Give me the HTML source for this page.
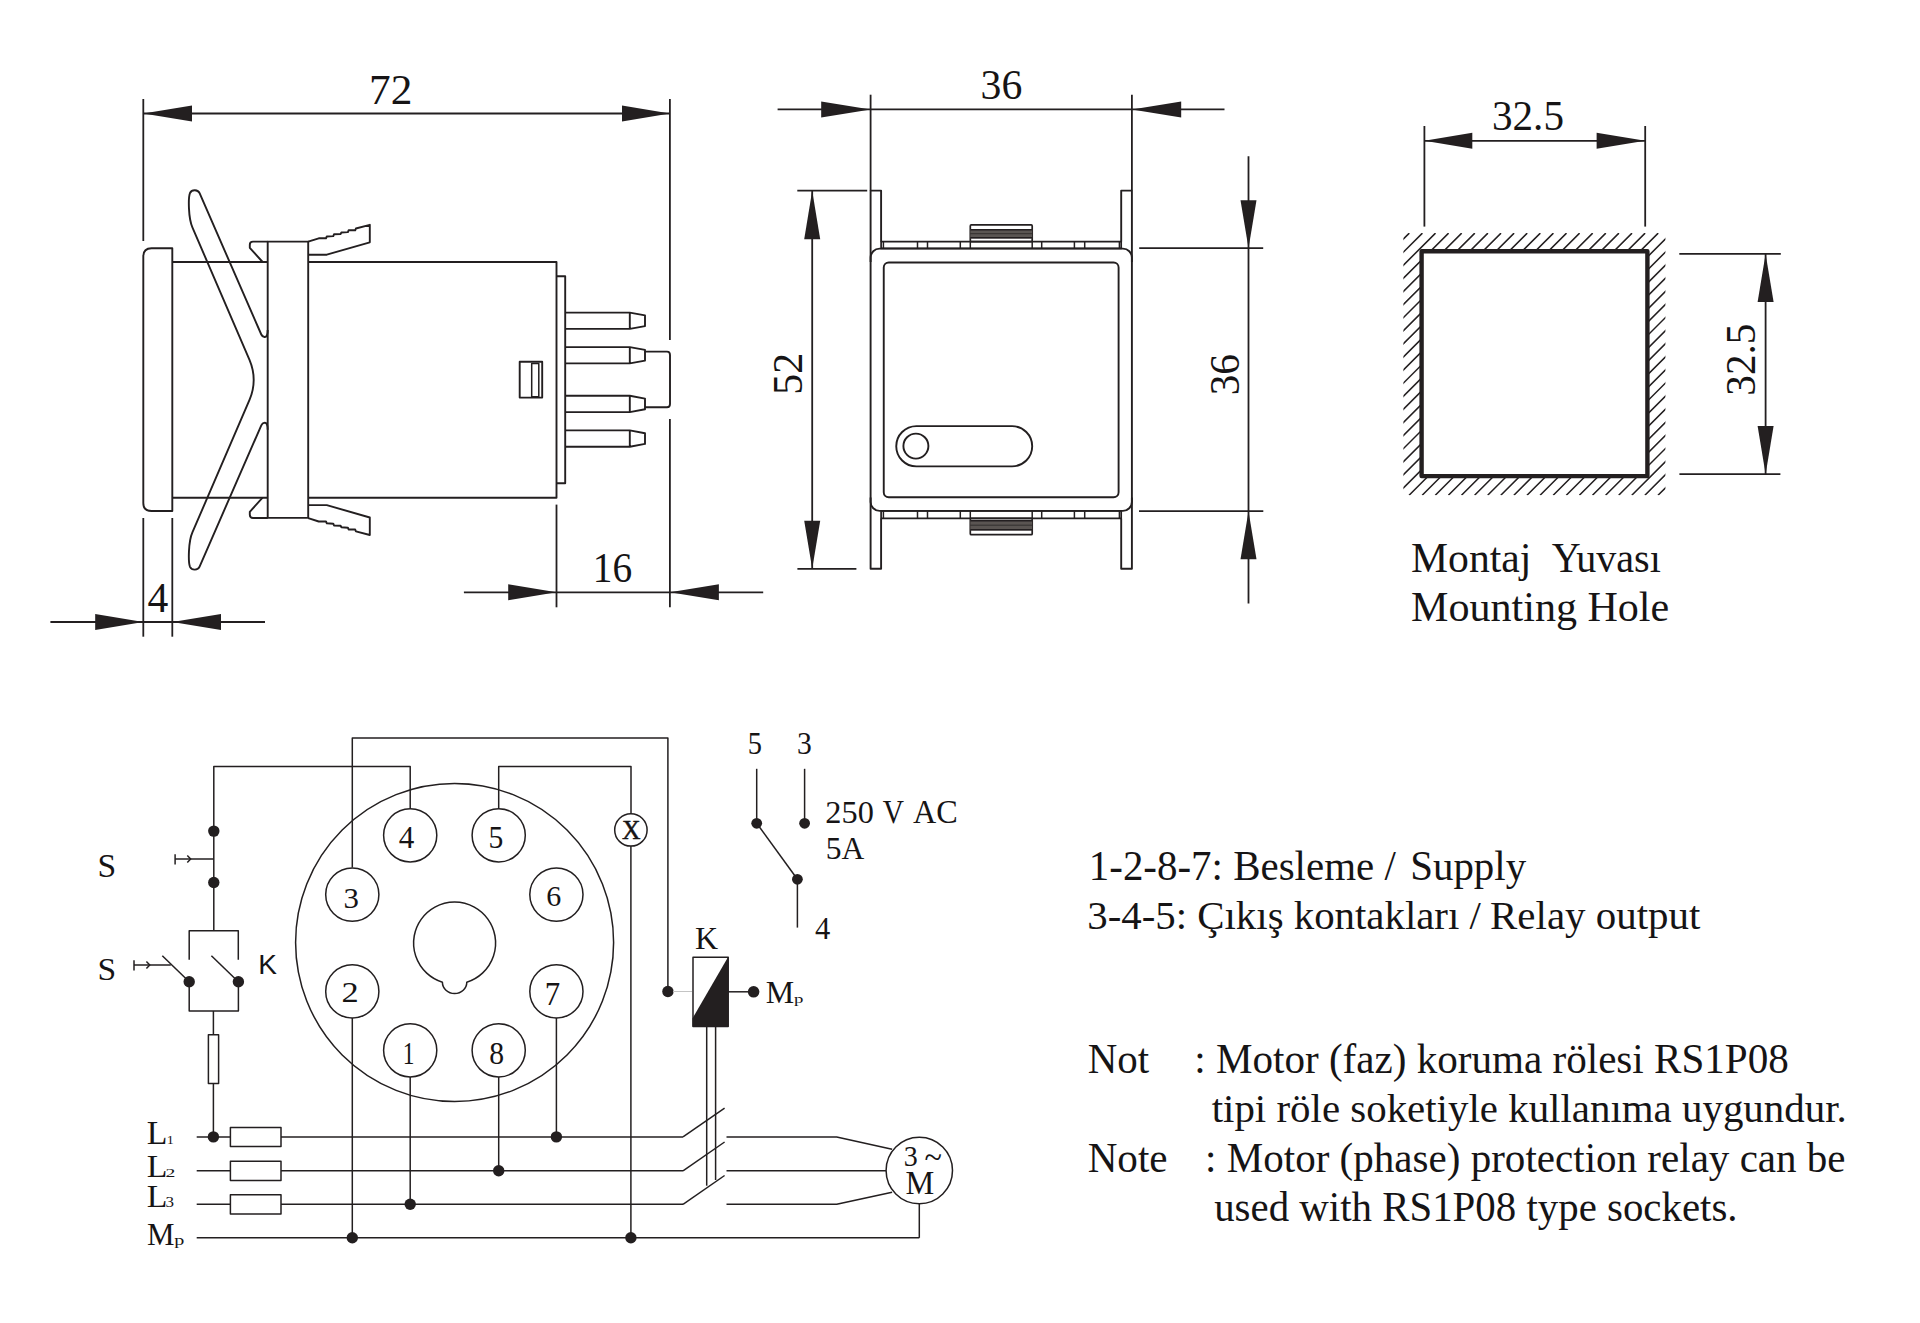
<!DOCTYPE html>
<html><head><meta charset="utf-8"><title>Relay drawing</title>
<style>
html,body{margin:0;padding:0;background:#fff;}
body{width:1920px;height:1323px;overflow:hidden;}
svg{display:block;}
text{fill:#161415;stroke:none;white-space:pre;}
</style></head>
<body>
<svg width="1920" height="1323" viewBox="0 0 1920 1323">
<rect width="1920" height="1323" fill="#fff"/>
<g stroke="#231f20" fill="none" stroke-linecap="butt" stroke-linejoin="round">
<line x1="143.3" y1="99" x2="143.3" y2="241" stroke-width="1.8"/>
<line x1="669.9" y1="99" x2="669.9" y2="340" stroke-width="1.8"/>
<line x1="669.9" y1="419" x2="669.9" y2="607.3" stroke-width="1.8"/>
<line x1="143.3" y1="113.5" x2="669.9" y2="113.5" stroke-width="1.8"/>
<polygon points="143.3,113.5 192,105.5 192,121.5" fill="#231f20" stroke="none"/>
<polygon points="669.9,113.5 622,121.5 622,105.5" fill="#231f20" stroke="none"/>
<text x="368.99" y="103.9" font-size="42.72" font-family="'Liberation Serif', serif" textLength="43.34" lengthAdjust="spacingAndGlyphs" >72</text>
<path d="M172.3,511 L151.5,511 Q143.3,511 143.3,503 L143.3,256.5 Q143.3,248.3 151.5,248.3 L172.3,248.3 Z" stroke-width="1.9" fill="none" />
<path d="M172.3,262 L267.7,262 M308.2,262 L556.5,262 L556.5,497.7 L308.2,497.7 M267.7,497.7 L172.3,497.7" stroke-width="1.9" fill="none" />
<rect x="267.7" y="241.6" width="40.5" height="276.3" fill="none" stroke-width="1.9"/>
<path d="M267.7,241.6 L253,241.6 Q249.8,241.6 249.8,244.8 L249.8,247.8 L262.6,262" stroke-width="1.9" fill="none" />
<path d="M267.7,518 L253,518 Q249.8,518 249.8,514.8 L249.8,511.8 L262.6,497.7" stroke-width="1.9" fill="none" />
<path d="M308.2,241.6 L318.75,238.3 L326,238.3 L326.8,236.5 L333.3,236.1 L334,234.3 L340.6,234 L341.4,232.5 L347.9,232.1 L348.6,230.3 L355.2,230.3 L355.9,228.5 L369.8,224.8 L369.8,242.3 L326.8,254.7 L308.2,254.7" stroke-width="1.9" fill="none" />
<path d="M308.2,518.2 L318.75,521.5 L326,521.5 L326.8,523.3 L333.3,523.7 L334,525.5 L340.6,525.8 L341.4,527.3 L347.9,527.7 L348.6,529.5 L355.2,529.5 L355.9,531.3 L369.8,535 L369.8,517.5 L326.8,505.1 L308.2,505.1" stroke-width="1.9" fill="none" />
<path d="M267.7,330 Q267.7,337.5 264.5,337 Q262.3,336.8 261.3,334.5 L199.6,193.2 C198,189.5 192,189 190,193 C188.2,197.5 188.2,218 192.5,227.6 L249.5,359.9 Q257.9,379.9 249.5,399.9 L192.5,532.2 C188.2,541.8 188.2,562.3 190,566.8 C192,570.8 198,570.3 199.6,566.6 L261.3,425.3 Q262.3,423 264.5,422.8 Q267.7,422.3 267.7,429.8" stroke-width="1.9" fill="none" />
<rect x="519.7" y="361.8" width="22.5" height="35.8" fill="none" stroke-width="1.9"/>
<rect x="531.7" y="363.4" width="7.1" height="33.3" fill="none" stroke-width="1.5"/>
<path d="M556.5,276.2 L565.2,276.2 L565.2,483.3 L556.5,483.3" stroke-width="1.9" fill="none" />
<path d="M565.2,312.6 L629.8,312.6 L645,315.4 L645,326.1 L629.8,328.9 L565.2,328.9 M629.8,312.6 L629.8,328.9" stroke-width="1.9" fill="none" />
<path d="M565.2,347.1 L629.8,347.1 L645,349.9 L645,360.6 L629.8,363.4 L565.2,363.4 M629.8,347.1 L629.8,363.4" stroke-width="1.9" fill="none" />
<path d="M565.2,395.8 L629.8,395.8 L645,398.6 L645,409.3 L629.8,412.1 L565.2,412.1 M629.8,395.8 L629.8,412.1" stroke-width="1.9" fill="none" />
<path d="M565.2,430.4 L629.8,430.4 L645,433.2 L645,443.9 L629.8,446.7 L565.2,446.7 M629.8,430.4 L629.8,446.7" stroke-width="1.9" fill="none" />
<path d="M645,351.6 L667,351.6 Q670,351.6 670,355 L670,404 Q670,407.3 667,407.3 L645,407.3" stroke-width="1.9" fill="none" />
<line x1="143.3" y1="518" x2="143.3" y2="636.7" stroke-width="1.8"/>
<line x1="172.3" y1="518" x2="172.3" y2="636.7" stroke-width="1.8"/>
<line x1="50.4" y1="622" x2="265" y2="622" stroke-width="1.8"/>
<polygon points="143.3,622 95.2,630 95.2,614" fill="#231f20" stroke="none"/>
<polygon points="172.3,622 221,614 221,630" fill="#231f20" stroke="none"/>
<text x="147.55" y="611.9" font-size="42.27" font-family="'Liberation Serif', serif" textLength="20.8" lengthAdjust="spacingAndGlyphs" >4</text>
<line x1="556.5" y1="504.6" x2="556.5" y2="607.3" stroke-width="1.8"/>
<line x1="463.9" y1="592.3" x2="763.2" y2="592.3" stroke-width="1.8"/>
<polygon points="556.5,592.3 508.2,600.3 508.2,584.3" fill="#231f20" stroke="none"/>
<polygon points="669.9,592.3 718.9,584.3 718.9,600.3" fill="#231f20" stroke="none"/>
<text x="592.82" y="582.24" font-size="42.33" font-family="'Liberation Serif', serif" textLength="39.39" lengthAdjust="spacingAndGlyphs" >16</text>
<line x1="870.6" y1="94.7" x2="870.6" y2="190.6" stroke-width="1.8"/>
<line x1="1131.9" y1="94.7" x2="1131.9" y2="190.6" stroke-width="1.8"/>
<line x1="777.6" y1="109.4" x2="1224.5" y2="109.4" stroke-width="1.8"/>
<polygon points="870.6,109.4 821.2,117.4 821.2,101.4" fill="#231f20" stroke="none"/>
<polygon points="1131.9,109.4 1181.2,101.4 1181.2,117.4" fill="#231f20" stroke="none"/>
<text x="980.54" y="99.24" font-size="42.47" font-family="'Liberation Serif', serif" textLength="41.71" lengthAdjust="spacingAndGlyphs" >36</text>
<line x1="797.3" y1="190.7" x2="867.2" y2="190.7" stroke-width="1.8"/>
<line x1="797.4" y1="568.8" x2="856.4" y2="568.8" stroke-width="1.8"/>
<line x1="812.2" y1="190.7" x2="812.2" y2="568.8" stroke-width="1.8"/>
<polygon points="812.2,190.7 820.2,239.2 804.2,239.2" fill="#231f20" stroke="none"/>
<polygon points="812.2,568.8 804.2,520.7 820.2,520.7" fill="#231f20" stroke="none"/>
<text x="0" y="0" transform="translate(801.95,394.77) rotate(-90)" font-size="41.75" font-family="'Liberation Serif', serif" textLength="41.93" lengthAdjust="spacingAndGlyphs">52</text>
<line x1="1139.2" y1="248.2" x2="1263.2" y2="248.2" stroke-width="1.8"/>
<line x1="1139" y1="511.2" x2="1263.3" y2="511.2" stroke-width="1.8"/>
<line x1="1248.5" y1="156.2" x2="1248.5" y2="603.4" stroke-width="1.8"/>
<polygon points="1248.5,248.2 1240.5,200.3 1256.5,200.3" fill="#231f20" stroke="none"/>
<polygon points="1248.5,511.2 1256.5,559.2 1240.5,559.2" fill="#231f20" stroke="none"/>
<text x="0" y="0" transform="translate(1239.03,395.34) rotate(-90)" font-size="42.91" font-family="'Liberation Serif', serif" textLength="41.39" lengthAdjust="spacingAndGlyphs">36</text>
<rect x="870.6" y="248.6" width="261.3" height="262.3" rx="9" fill="none" stroke-width="1.9"/>
<path d="M870.6,262 L870.6,190.6 L881.1,190.6 L881.1,241.7" stroke-width="1.9" fill="none" />
<path d="M1121.2,241.7 L1121.2,190.6 L1131.9,190.6 L1131.9,262" stroke-width="1.9" fill="none" />
<path d="M870.6,497.5 L870.6,568.75 L881.1,568.75 L881.1,518.4" stroke-width="1.9" fill="none" />
<path d="M1121.2,518.4 L1121.2,568.75 L1131.9,568.75 L1131.9,497.5" stroke-width="1.9" fill="none" />
<rect x="881.1" y="241.6" width="240.1" height="6.8" fill="none" stroke-width="1.7"/>
<line x1="883.4" y1="241.6" x2="883.4" y2="248.4" stroke-width="1.5"/>
<line x1="917.5" y1="241.6" x2="917.5" y2="248.4" stroke-width="1.5"/>
<line x1="927.5" y1="241.6" x2="927.5" y2="248.4" stroke-width="1.5"/>
<line x1="960.3" y1="241.6" x2="960.3" y2="248.4" stroke-width="1.5"/>
<line x1="970.3" y1="241.6" x2="970.3" y2="248.4" stroke-width="1.5"/>
<line x1="1032.2" y1="241.6" x2="1032.2" y2="248.4" stroke-width="1.5"/>
<line x1="1041.7" y1="241.6" x2="1041.7" y2="248.4" stroke-width="1.5"/>
<line x1="1074.4" y1="241.6" x2="1074.4" y2="248.4" stroke-width="1.5"/>
<line x1="1084.7" y1="241.6" x2="1084.7" y2="248.4" stroke-width="1.5"/>
<line x1="1119.4" y1="241.6" x2="1119.4" y2="248.4" stroke-width="1.5"/>
<rect x="881.1" y="510.9" width="240.1" height="7.5" fill="none" stroke-width="1.7"/>
<line x1="883.4" y1="510.9" x2="883.4" y2="518.4" stroke-width="1.5"/>
<line x1="917.5" y1="510.9" x2="917.5" y2="518.4" stroke-width="1.5"/>
<line x1="927.5" y1="510.9" x2="927.5" y2="518.4" stroke-width="1.5"/>
<line x1="960.3" y1="510.9" x2="960.3" y2="518.4" stroke-width="1.5"/>
<line x1="970.3" y1="510.9" x2="970.3" y2="518.4" stroke-width="1.5"/>
<line x1="1032.2" y1="510.9" x2="1032.2" y2="518.4" stroke-width="1.5"/>
<line x1="1041.7" y1="510.9" x2="1041.7" y2="518.4" stroke-width="1.5"/>
<line x1="1074.4" y1="510.9" x2="1074.4" y2="518.4" stroke-width="1.5"/>
<line x1="1084.7" y1="510.9" x2="1084.7" y2="518.4" stroke-width="1.5"/>
<line x1="1119.4" y1="510.9" x2="1119.4" y2="518.4" stroke-width="1.5"/>
<rect x="970.3" y="224.9" width="61.9" height="16.7" rx="1" fill="none" stroke-width="1.7"/>
<rect x="970.3" y="229" width="61.9" height="9.5" fill="#5a5552" stroke="none"/>
<line x1="970.3" y1="229.7" x2="1032.2" y2="229.7" stroke-width="1.4"/>
<line x1="970.3" y1="237.8" x2="1032.2" y2="237.8" stroke-width="1.4"/>
<line x1="970.3" y1="233.7" x2="1032.2" y2="233.7" stroke-width="0.7"/>
<rect x="970.3" y="518.4" width="61.9" height="16.3" rx="1" fill="none" stroke-width="1.7"/>
<rect x="970.3" y="520" width="61.9" height="10.5" fill="#5a5552" stroke="none"/>
<line x1="970.3" y1="520.7" x2="1032.2" y2="520.7" stroke-width="1.4"/>
<line x1="970.3" y1="529.8" x2="1032.2" y2="529.8" stroke-width="1.4"/>
<line x1="970.3" y1="525.2" x2="1032.2" y2="525.2" stroke-width="0.7"/>
<rect x="883.75" y="262.5" width="234.85" height="234.7" rx="5" fill="none" stroke-width="1.9"/>
<rect x="896.25" y="426.1" width="135.95" height="40.3" rx="20.15" fill="none" stroke-width="1.9"/>
<circle cx="915.9" cy="446.1" r="12.5" stroke-width="1.9" fill="none"/>
<line x1="1424.4" y1="126" x2="1424.4" y2="226.6" stroke-width="1.8"/>
<line x1="1645.2" y1="126" x2="1645.2" y2="226.6" stroke-width="1.8"/>
<line x1="1424.4" y1="140.8" x2="1645.2" y2="140.8" stroke-width="1.8"/>
<polygon points="1424.4,140.8 1472.3,132.8 1472.3,148.8" fill="#231f20" stroke="none"/>
<polygon points="1645.2,140.8 1596.6,148.8 1596.6,132.8" fill="#231f20" stroke="none"/>
<text x="1491.97" y="129.94" font-size="42.47" font-family="'Liberation Serif', serif" textLength="72.01" lengthAdjust="spacingAndGlyphs" >32.5</text>
<line x1="1679.3" y1="253.9" x2="1780.8" y2="253.9" stroke-width="1.8"/>
<line x1="1679.4" y1="474.2" x2="1780.4" y2="474.2" stroke-width="1.8"/>
<line x1="1765.6" y1="253.9" x2="1765.6" y2="474.2" stroke-width="1.8"/>
<polygon points="1765.6,253.9 1773.6,302 1757.6,302" fill="#231f20" stroke="none"/>
<polygon points="1765.6,474.2 1757.6,425.9 1773.6,425.9" fill="#231f20" stroke="none"/>
<text x="0" y="0" transform="translate(1755.44,395.63) rotate(-90)" font-size="42.04" font-family="'Liberation Serif', serif" textLength="71.91" lengthAdjust="spacingAndGlyphs">32.5</text>
<clipPath id="hc"><path clip-rule="evenodd" d="M1403.4,233.1 H1665.4 V495.3 H1403.4 Z M1421.6,251.25 H1647.4 V476.1 H1421.6 Z"/></clipPath>
<path d="M1160.4,233.1 L898.2,495.3 M1173.5,233.1 L911.3,495.3 M1186.6,233.1 L924.4,495.3 M1199.7,233.1 L937.5,495.3 M1212.8,233.1 L950.6,495.3 M1225.9,233.1 L963.7,495.3 M1239,233.1 L976.8,495.3 M1252.1,233.1 L989.9,495.3 M1265.2,233.1 L1003,495.3 M1278.3,233.1 L1016.1,495.3 M1291.4,233.1 L1029.2,495.3 M1304.5,233.1 L1042.3,495.3 M1317.6,233.1 L1055.4,495.3 M1330.7,233.1 L1068.5,495.3 M1343.8,233.1 L1081.6,495.3 M1356.9,233.1 L1094.7,495.3 M1370,233.1 L1107.8,495.3 M1383.1,233.1 L1120.9,495.3 M1396.2,233.1 L1134,495.3 M1409.3,233.1 L1147.1,495.3 M1422.4,233.1 L1160.2,495.3 M1435.5,233.1 L1173.3,495.3 M1448.6,233.1 L1186.4,495.3 M1461.7,233.1 L1199.5,495.3 M1474.8,233.1 L1212.6,495.3 M1487.9,233.1 L1225.7,495.3 M1501,233.1 L1238.8,495.3 M1514.1,233.1 L1251.9,495.3 M1527.2,233.1 L1265,495.3 M1540.3,233.1 L1278.1,495.3 M1553.4,233.1 L1291.2,495.3 M1566.5,233.1 L1304.3,495.3 M1579.6,233.1 L1317.4,495.3 M1592.7,233.1 L1330.5,495.3 M1605.8,233.1 L1343.6,495.3 M1618.9,233.1 L1356.7,495.3 M1632,233.1 L1369.8,495.3 M1645.1,233.1 L1382.9,495.3 M1658.2,233.1 L1396,495.3 M1671.3,233.1 L1409.1,495.3 M1684.4,233.1 L1422.2,495.3 M1697.5,233.1 L1435.3,495.3 M1710.6,233.1 L1448.4,495.3 M1723.7,233.1 L1461.5,495.3 M1736.8,233.1 L1474.6,495.3 M1749.9,233.1 L1487.7,495.3 M1763,233.1 L1500.8,495.3 M1776.1,233.1 L1513.9,495.3 M1789.2,233.1 L1527,495.3 M1802.3,233.1 L1540.1,495.3 M1815.4,233.1 L1553.2,495.3 M1828.5,233.1 L1566.3,495.3 M1841.6,233.1 L1579.4,495.3 M1854.7,233.1 L1592.5,495.3 M1867.8,233.1 L1605.6,495.3 M1880.9,233.1 L1618.7,495.3 M1894,233.1 L1631.8,495.3 M1907.1,233.1 L1644.9,495.3 M1920.2,233.1 L1658,495.3 M1933.3,233.1 L1671.1,495.3" stroke-width="1.55" fill="none" clip-path="url(#hc)"/>
<rect x="1421.6" y="251.25" width="225.8" height="224.85" fill="none" stroke-width="4.4"/>
<text x="1411.05" y="572.3" font-size="42.97" font-family="'Liberation Serif', serif" textLength="120.36" lengthAdjust="spacingAndGlyphs" >Montaj</text>
<text x="1551.7" y="572.3" font-size="42.97" font-family="'Liberation Serif', serif" textLength="109.09" lengthAdjust="spacingAndGlyphs" >Yuvası</text>
<text x="1411.04" y="621.1" font-size="42.82" font-family="'Liberation Serif', serif" textLength="258.18" lengthAdjust="spacingAndGlyphs" >Mounting Hole</text>
<path d="M352.3,867.5 L352.3,738 L667.9,738 L667.9,990.9" stroke-width="1.5" fill="none" />
<path d="M213.8,930.7 L213.8,766.6 L410.2,766.6 L410.2,808.4" stroke-width="1.5" fill="none" />
<path d="M498.7,808.4 L498.7,766.6 L631,766.6 L631,813.5" stroke-width="1.5" fill="none" />
<circle cx="454.6" cy="942.5" r="159" stroke-width="1.5" fill="none"/>
<path d="M442.4,982.2 A41,41 0 1 1 466.8,982.2 A12.2,11.3 0 0 1 442.4,982.2 Z" stroke-width="1.5" fill="none" />
<circle cx="352.3" cy="894.6" r="26.6" stroke-width="1.5" fill="none"/>
<circle cx="410.2" cy="835.3" r="26.6" stroke-width="1.5" fill="none"/>
<circle cx="498.7" cy="835.3" r="26.6" stroke-width="1.5" fill="none"/>
<circle cx="556.4" cy="894.6" r="26.6" stroke-width="1.5" fill="none"/>
<circle cx="352.3" cy="991.4" r="26.6" stroke-width="1.5" fill="none"/>
<circle cx="556.4" cy="991.4" r="26.6" stroke-width="1.5" fill="none"/>
<circle cx="410.2" cy="1050.3" r="26.6" stroke-width="1.5" fill="none"/>
<circle cx="498.7" cy="1050.3" r="26.6" stroke-width="1.5" fill="none"/>
<text x="402.67" y="1064.2" font-size="31.11" font-family="'Liberation Serif', serif" textLength="11.73" lengthAdjust="spacingAndGlyphs" >1</text>
<text x="341.53" y="1002.3" font-size="30.07" font-family="'Liberation Serif', serif" textLength="17.19" lengthAdjust="spacingAndGlyphs" >2</text>
<text x="343.46" y="907.83" font-size="30.25" font-family="'Liberation Serif', serif" textLength="15.41" lengthAdjust="spacingAndGlyphs" >3</text>
<text x="398.81" y="848.4" font-size="31.4" font-family="'Liberation Serif', serif" textLength="15.57" lengthAdjust="spacingAndGlyphs" >4</text>
<text x="488.51" y="847.61" font-size="31.55" font-family="'Liberation Serif', serif" textLength="14.81" lengthAdjust="spacingAndGlyphs" >5</text>
<text x="546.26" y="906.03" font-size="30.25" font-family="'Liberation Serif', serif" textLength="15.01" lengthAdjust="spacingAndGlyphs" >6</text>
<text x="544.87" y="1004.9" font-size="32.76" font-family="'Liberation Serif', serif" textLength="15.41" lengthAdjust="spacingAndGlyphs" >7</text>
<text x="489.27" y="1063.71" font-size="31.27" font-family="'Liberation Serif', serif" textLength="14.86" lengthAdjust="spacingAndGlyphs" >8</text>
<circle cx="630.9" cy="829.9" r="16.2" stroke-width="1.5" fill="none"/>
<text x="621.9" y="839.1" font-size="28.04" font-family="'Liberation Serif', serif" textLength="18.49" lengthAdjust="spacingAndGlyphs" style="stroke:#161415;stroke-width:0.6">X</text>
<line x1="630.9" y1="846.1" x2="630.9" y2="1237.7" stroke-width="1.5"/>
<circle cx="213.8" cy="831.1" r="5.7" fill="#231f20" stroke="none"/>
<circle cx="213.8" cy="882.5" r="5.7" fill="#231f20" stroke="none"/>
<line x1="175.1" y1="859.1" x2="213.8" y2="859.1" stroke-width="1.5"/>
<line x1="175.1" y1="854.2" x2="175.1" y2="864.4" stroke-width="1.5"/>
<path d="M187.3,855.6 L190.7,859.1 L187.3,862.6" stroke-width="1.5" fill="none" />
<text x="97.5" y="877.18" font-size="33.16" font-family="'Liberation Serif', serif" textLength="18.69" lengthAdjust="spacingAndGlyphs" >S</text>
<path d="M189.2,959.7 L189.2,930.7 L238.3,930.7 L238.3,959.7" stroke-width="1.5" fill="none" />
<line x1="162.3" y1="955.7" x2="189.2" y2="981.8" stroke-width="1.5"/>
<line x1="211.4" y1="955.7" x2="238.3" y2="981.8" stroke-width="1.5"/>
<circle cx="189.2" cy="981.8" r="5.7" fill="#231f20" stroke="none"/>
<circle cx="238.4" cy="981.8" r="5.7" fill="#231f20" stroke="none"/>
<line x1="134" y1="965" x2="170.8" y2="965" stroke-width="1.5"/>
<line x1="134" y1="960.2" x2="134" y2="970.4" stroke-width="1.5"/>
<path d="M146.4,961.5 L149.8,965 L146.4,968.5" stroke-width="1.5" fill="none" />
<text x="97.5" y="979.8" font-size="31.85" font-family="'Liberation Serif', serif" textLength="18.69" lengthAdjust="spacingAndGlyphs" >S</text>
<text x="258.21" y="973.7" font-size="27.45" font-family="'Liberation Sans', sans-serif" textLength="18.69" lengthAdjust="spacingAndGlyphs" >K</text>
<path d="M189.2,981.8 L189.2,1011 L238.4,1011 L238.4,981.8 M213.4,1011 L213.4,1034.8" stroke-width="1.5" fill="none" />
<rect x="208.4" y="1034.8" width="10.2" height="48.8" fill="none" stroke-width="1.5"/>
<line x1="213.4" y1="1083.6" x2="213.4" y2="1136.9" stroke-width="1.5"/>
<line x1="196.7" y1="1136.9" x2="230.4" y2="1136.9" stroke-width="1.5"/>
<rect x="230.4" y="1127.4" width="50.6" height="19.2" fill="none" stroke-width="1.5"/>
<line x1="281" y1="1136.9" x2="683" y2="1136.9" stroke-width="1.5"/>
<line x1="683" y1="1136.9" x2="724.6" y2="1108.1" stroke-width="1.5"/>
<line x1="196.7" y1="1170.8" x2="230.4" y2="1170.8" stroke-width="1.5"/>
<rect x="230.4" y="1161.3" width="50.6" height="19.2" fill="none" stroke-width="1.5"/>
<line x1="281" y1="1170.8" x2="683" y2="1170.8" stroke-width="1.5"/>
<line x1="683" y1="1170.8" x2="724.6" y2="1142" stroke-width="1.5"/>
<line x1="196.7" y1="1204.3" x2="230.4" y2="1204.3" stroke-width="1.5"/>
<rect x="230.4" y="1194.8" width="50.6" height="19.2" fill="none" stroke-width="1.5"/>
<line x1="281" y1="1204.3" x2="683" y2="1204.3" stroke-width="1.5"/>
<line x1="683" y1="1204.3" x2="724.6" y2="1175.5" stroke-width="1.5"/>
<line x1="196.7" y1="1237.8" x2="919.3" y2="1237.8" stroke-width="1.5"/>
<circle cx="213.4" cy="1136.9" r="5.7" fill="#231f20" stroke="none"/>
<line x1="352.3" y1="1018" x2="352.3" y2="1237.8" stroke-width="1.5"/>
<circle cx="352.3" cy="1237.8" r="5.7" fill="#231f20" stroke="none"/>
<line x1="410.2" y1="1076.9" x2="410.2" y2="1204.3" stroke-width="1.5"/>
<circle cx="410.2" cy="1204.3" r="5.7" fill="#231f20" stroke="none"/>
<line x1="498.7" y1="1076.9" x2="498.7" y2="1170.8" stroke-width="1.5"/>
<circle cx="498.7" cy="1170.8" r="5.7" fill="#231f20" stroke="none"/>
<line x1="556.4" y1="1018" x2="556.4" y2="1136.9" stroke-width="1.5"/>
<circle cx="556.4" cy="1136.9" r="5.7" fill="#231f20" stroke="none"/>
<circle cx="630.9" cy="1237.7" r="5.7" fill="#231f20" stroke="none"/>
<text x="146.67" y="1143.7" font-size="32.76" font-family="'Liberation Serif', serif" textLength="20.66" lengthAdjust="spacingAndGlyphs" >L</text>
<text x="166.8" y="1143.7" font-size="11.76" font-family="'Liberation Serif', serif" textLength="7.07" lengthAdjust="spacingAndGlyphs" >1</text>
<text x="146.67" y="1176.9" font-size="32.15" font-family="'Liberation Serif', serif" textLength="20.66" lengthAdjust="spacingAndGlyphs" >L</text>
<text x="165.49" y="1176.9" font-size="12.95" font-family="'Liberation Serif', serif" textLength="9.84" lengthAdjust="spacingAndGlyphs" >2</text>
<text x="146.67" y="1207.1" font-size="32.15" font-family="'Liberation Serif', serif" textLength="20.66" lengthAdjust="spacingAndGlyphs" >L</text>
<text x="165.6" y="1207.29" font-size="13.67" font-family="'Liberation Serif', serif" textLength="8.53" lengthAdjust="spacingAndGlyphs" >3</text>
<text x="146.92" y="1244.9" font-size="31.85" font-family="'Liberation Serif', serif" textLength="27.52" lengthAdjust="spacingAndGlyphs" >M</text>
<text x="174.29" y="1244.63" font-size="14.51" font-family="'Liberation Serif', serif" textLength="10.04" lengthAdjust="spacingAndGlyphs" >p</text>
<circle cx="667.9" cy="991.5" r="5.7" fill="#231f20" stroke="none"/>
<line x1="673" y1="991.5" x2="692" y2="991.5" stroke="#c4c4c4" stroke-width="1"/>
<rect x="693" y="957.2" width="35.2" height="69.3" fill="none" stroke-width="1.5"/>
<polygon points="692.5,1018.4 728.4,956.6 728.4,1026.5 692.5,1026.5" fill="#231f20" stroke="none"/>
<text x="694.9" y="948.9" font-size="31.54" font-family="'Liberation Serif', serif" textLength="23.11" lengthAdjust="spacingAndGlyphs" >K</text>
<line x1="728.4" y1="991.8" x2="753.6" y2="991.8" stroke-width="1.5"/>
<circle cx="753.6" cy="991.8" r="5.8" fill="#231f20" stroke="none"/>
<text x="765.7" y="1002.7" font-size="32.15" font-family="'Liberation Serif', serif" textLength="28.45" lengthAdjust="spacingAndGlyphs" >M</text>
<text x="794.11" y="1003.04" font-size="13.51" font-family="'Liberation Serif', serif" textLength="9.38" lengthAdjust="spacingAndGlyphs" >p</text>
<line x1="706.7" y1="1026.5" x2="706.7" y2="1185.7" stroke-width="1.5"/>
<line x1="715.6" y1="1026.5" x2="715.6" y2="1180" stroke-width="1.5"/>
<path d="M726.5,1136.9 L836.7,1136.9 L892.1,1149.3" stroke-width="1.5" fill="none" />
<line x1="726.5" y1="1170.7" x2="886" y2="1170.7" stroke-width="1.5"/>
<path d="M726.5,1204.3 L836.7,1204.3 L892.1,1192.3" stroke-width="1.5" fill="none" />
<circle cx="919.3" cy="1170.5" r="33.2" stroke-width="1.5" fill="none"/>
<path d="M919.3,1203.7 L919.3,1237.8" stroke-width="1.5" fill="none" />
<text x="903.79" y="1166.43" font-size="30.4" font-family="'Liberation Serif', serif" textLength="13.99" lengthAdjust="spacingAndGlyphs" >3</text>
<text x="924.5" y="1167.78" font-size="33.6" font-family="'Liberation Serif', serif" textLength="17.42" lengthAdjust="spacingAndGlyphs" >~</text>
<text x="905.49" y="1193.8" font-size="32.76" font-family="'Liberation Serif', serif" textLength="28.76" lengthAdjust="spacingAndGlyphs" >M</text>
<text x="747.67" y="754.31" font-size="31.33" font-family="'Liberation Serif', serif" textLength="14.22" lengthAdjust="spacingAndGlyphs" >5</text>
<text x="796.91" y="754.32" font-size="30.62" font-family="'Liberation Serif', serif" textLength="14.81" lengthAdjust="spacingAndGlyphs" >3</text>
<line x1="756.7" y1="768.8" x2="756.7" y2="823.3" stroke-width="1.5"/>
<circle cx="756.7" cy="823.3" r="5.4" fill="#231f20" stroke="none"/>
<line x1="804.6" y1="768.8" x2="804.6" y2="823.3" stroke-width="1.5"/>
<circle cx="804.6" cy="823.3" r="5.4" fill="#231f20" stroke="none"/>
<line x1="756.7" y1="823.3" x2="797.4" y2="879.3" stroke-width="1.5"/>
<circle cx="797.4" cy="879.3" r="5.4" fill="#231f20" stroke="none"/>
<line x1="797.4" y1="879.3" x2="797.4" y2="927.6" stroke-width="1.5"/>
<text x="815.02" y="938.9" font-size="30.96" font-family="'Liberation Serif', serif" textLength="15.25" lengthAdjust="spacingAndGlyphs" >4</text>
<text x="825.39" y="822.7" font-size="32.29" font-family="'Liberation Serif', serif" textLength="48.52" lengthAdjust="spacingAndGlyphs" >250</text>
<text x="882.7" y="823.2" font-size="33.83" font-family="'Liberation Serif', serif" textLength="21.2" lengthAdjust="spacingAndGlyphs" >V</text>
<text x="912.9" y="823.2" font-size="33.04" font-family="'Liberation Serif', serif" textLength="44.75" lengthAdjust="spacingAndGlyphs" >AC</text>
<text x="825.72" y="859.1" font-size="32.6" font-family="'Liberation Serif', serif" textLength="38.59" lengthAdjust="spacingAndGlyphs" >5A</text>
<text x="1088.8" y="880.1" font-size="42.82" font-family="'Liberation Serif', serif" textLength="306.96" lengthAdjust="spacingAndGlyphs" >1-2-8-7: Besleme /</text>
<text x="1410.24" y="880.1" font-size="42.21" font-family="'Liberation Serif', serif" textLength="115.86" lengthAdjust="spacingAndGlyphs" >Supply</text>
<text x="1087.29" y="929.4" font-size="40.38" font-family="'Liberation Serif', serif" textLength="393.57" lengthAdjust="spacingAndGlyphs" >3-4-5: Çıkış kontakları /</text>
<text x="1490.06" y="929.4" font-size="40.38" font-family="'Liberation Serif', serif" textLength="210.3" lengthAdjust="spacingAndGlyphs" >Relay output</text>
<text x="1087.66" y="1073" font-size="42.21" font-family="'Liberation Serif', serif" textLength="61.4" lengthAdjust="spacingAndGlyphs" >Not</text>
<text x="1194.29" y="1073" font-size="42.21" font-family="'Liberation Serif', serif" textLength="594.49" lengthAdjust="spacingAndGlyphs" >: Motor (faz) koruma rölesi RS1P08</text>
<text x="1211.7" y="1121.7" font-size="40.39" font-family="'Liberation Serif', serif" textLength="635.06" lengthAdjust="spacingAndGlyphs" >tipi röle soketiyle kullanıma uygundur.</text>
<text x="1087.66" y="1171.7" font-size="41.9" font-family="'Liberation Serif', serif" textLength="79.95" lengthAdjust="spacingAndGlyphs" >Note</text>
<text x="1205.09" y="1171.7" font-size="41.9" font-family="'Liberation Serif', serif" textLength="640.51" lengthAdjust="spacingAndGlyphs" >: Motor (phase) protection relay can be</text>
<text x="1214.2" y="1220.8" font-size="41.39" font-family="'Liberation Serif', serif" textLength="523.35" lengthAdjust="spacingAndGlyphs" >used with RS1P08 type sockets.</text>
</g>
</svg>
</body></html>
